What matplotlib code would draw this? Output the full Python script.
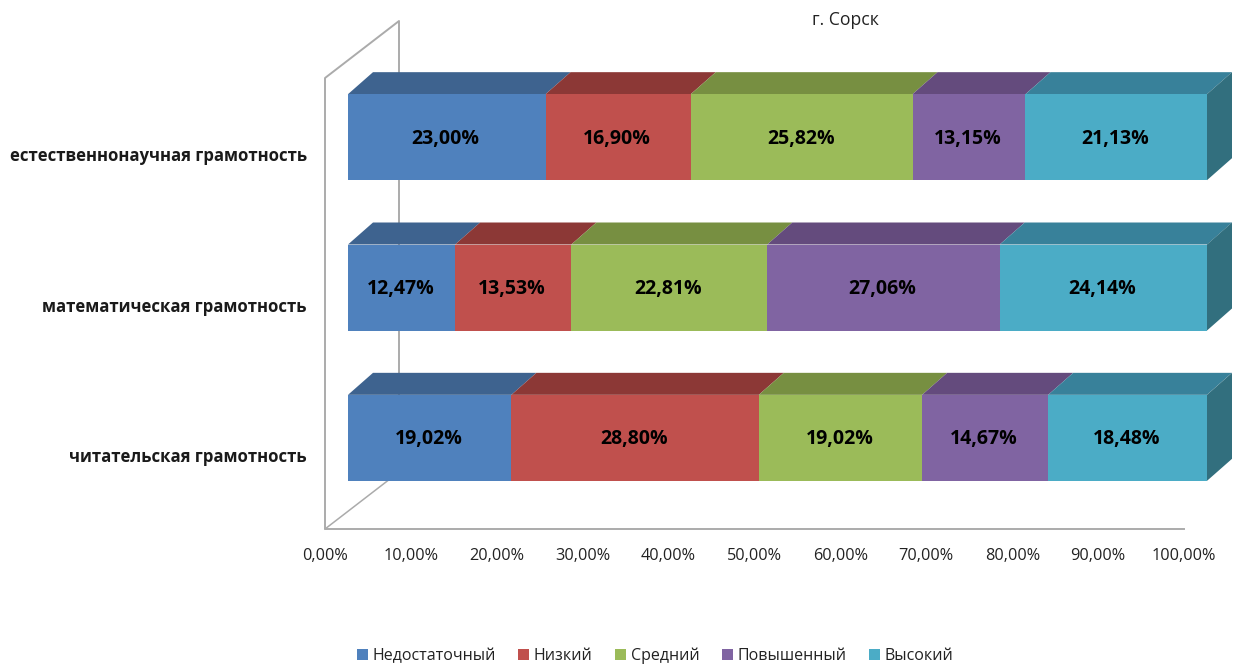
import numpy as np
import matplotlib
matplotlib.use("Agg")
import matplotlib.pyplot as plt
from matplotlib.patches import Polygon, Patch

categories = ["читательская грамотность", "математическая грамотность", "естественнонаучная грамотность"]
levels = ["Недостаточный", "Низкий", "Средний", "Повышенный", "Высокий"]
nedostat = [19.02, 12.47, 23.00]
nizkiy = [28.80, 13.53, 16.90]
sredniy = [19.02, 22.81, 25.82]
povysh = [14.67, 27.06, 13.15]
vysokiy = [18.48, 24.14, 21.13]
series = [nedostat, nizkiy, sredniy, povysh, vysokiy]
x_ticks = np.arange(0, 101, 10)

front_colors = ["#4F81BD", "#C0504D", "#9BBB59", "#8064A2", "#4BACC6"]
top_colors = ["#3E638F", "#8C3836", "#778F41", "#644B7D", "#38819A"]
side_color = "#326F7E"
wall_color = "#ABABAB"

W, H = 1234, 666
plt.rcParams["font.family"] = ["Open Sans", "DejaVu Sans"]
fig = plt.figure(figsize=(W / 100, H / 100), dpi=100)

# axes frame = the front plane of the bars, in pixels of the picture
left, right, top, bottom = 348, 1207, 62, 513
ax = fig.add_axes([left / W, 1 - bottom / H, (right - left) / W, (bottom - top) / H])
ax.set_xlim(0, 100)
ax.set_ylim(-0.5, 2.5)
ax.axis("off")

px_x = 100 / (right - left)
px_y = 3 / (bottom - top)
bar_h = 86 * px_y
dx, dy = 25 * px_x, 22 * px_y  # depth of the bars

# walls and floor
x0 = -23 * px_x
y0 = -0.5 - 16 * px_y
wall_top = y0 + 451 * px_y
depth_x, depth_y = 74 * px_x, 57 * px_y
wall_x = [x0 + depth_x, x0 + depth_x, x0, x0, 100 + x0]
wall_y = [y0 + depth_y, wall_top + depth_y, wall_top, y0, y0]
ax.plot(wall_x, wall_y, color=wall_color, lw=1.4, clip_on=False, zorder=1)
ax.plot([x0, x0 + depth_x], [y0, y0 + depth_y], color=wall_color, lw=1.1, clip_on=False, zorder=1)

y_pos = np.arange(len(categories))
lefts = np.zeros(len(categories))
for vals, fc, tc in zip(series, front_colors, top_colors):
    ax.barh(y_pos, vals, left=lefts, height=bar_h, color=fc, zorder=3, clip_on=False)
    for y, l, v in zip(y_pos, lefts, vals):
        t = y + bar_h / 2
        ax.add_patch(Polygon([(l, t), (l + v, t), (l + v + dx, t + dy), (l + dx, t + dy)],
                             closed=True, fc=tc, ec="none", zorder=2, clip_on=False))
        ax.text(l + v / 2 - 0.12, y - 1.5 * px_y, ("%.2f%%" % v).replace(".", ","), ha="center", va="center",
                fontsize=14, fontweight="bold", color="black", zorder=5)
    lefts = lefts + np.array(vals)

# right end of the bars
for y in y_pos:
    end = 100
    t, b = y + bar_h / 2, y - bar_h / 2
    ax.add_patch(Polygon([(end, b), (end, t), (end + dx, t + dy), (end + dx, b + dy)],
                         closed=True, fc=side_color, ec="none", zorder=2, clip_on=False))

for y, name in zip(y_pos, categories):
    ax.text(x0 - 18 * px_x, y - 19 * px_y, name, ha="right", va="center",
            fontsize=12.1, fontweight="bold", color="#1A1A1A", clip_on=False)

for v in x_ticks:
    ax.text(v + x0, y0 - 27 * px_y, ("%.2f%%" % v).replace(".", ","), ha="center", va="center",
            fontsize=11.7, color="#222222", clip_on=False)

fig.text(845 / W, 1 - 20 / H, "г. Сорск", ha="center", va="center", fontsize=12.7, color="#222222")

handles = [Patch(fc=c, ec="none") for c in front_colors]
fig.legend(handles, levels, loc="center", bbox_to_anchor=(655 / W, 1 - 656 / H), ncol=5, frameon=False,
           fontsize=11.5, handlelength=0.68, handleheight=0.68, handletextpad=0.3, columnspacing=1.4,
           labelcolor="#222222")

fig.savefig("out.png", dpi=100)
